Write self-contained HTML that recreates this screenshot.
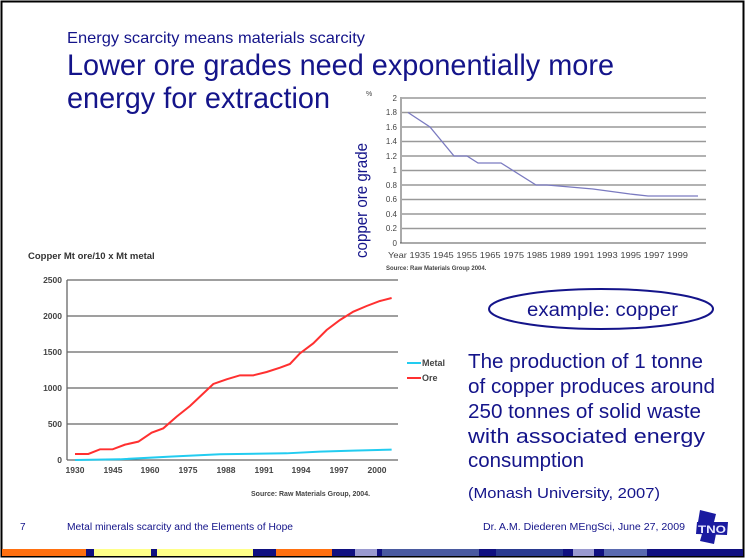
<!DOCTYPE html>
<html><head><meta charset="utf-8"><style>
html,body{margin:0;padding:0;background:#fff}
svg{display:block}
text{font-family:"Liberation Sans",sans-serif}
</style></head><body>
<svg width="746" height="558" viewBox="0 0 746 558" xmlns="http://www.w3.org/2000/svg">
<rect x="0" y="0" width="746" height="558" fill="#fff"/>
<rect x="1.5" y="1.5" width="742" height="555" fill="none" stroke="#000" stroke-width="2"/>
<g fill="#14148a">
<text x="67" y="43" font-size="16" textLength="298" lengthAdjust="spacingAndGlyphs">Energy scarcity means materials scarcity</text>
<text x="67" y="75" font-size="30" textLength="547" lengthAdjust="spacingAndGlyphs">Lower ore grades need exponentially more</text>
<text x="67" y="108" font-size="30" textLength="263" lengthAdjust="spacingAndGlyphs">energy for extraction</text>
</g>
<!-- top chart -->
<g stroke="#999" stroke-width="1.5">
<line x1="402" y1="98" x2="706" y2="98"/><line x1="402" y1="112.5" x2="706" y2="112.5"/>
<line x1="402" y1="127" x2="706" y2="127"/><line x1="402" y1="141.5" x2="706" y2="141.5"/>
<line x1="402" y1="156" x2="706" y2="156"/><line x1="402" y1="170.5" x2="706" y2="170.5"/>
<line x1="402" y1="185" x2="706" y2="185"/><line x1="402" y1="199.5" x2="706" y2="199.5"/>
<line x1="402" y1="214" x2="706" y2="214"/><line x1="402" y1="228.5" x2="706" y2="228.5"/>
</g>
<line x1="400" y1="243" x2="706" y2="243" stroke="#555"/>
<line x1="401" y1="97" x2="401" y2="243" stroke="#555"/>
<polyline fill="none" stroke="#7a7ac0" stroke-width="1.3" points="408,112.5 430,127 454,156 467,156 478,163 501,163 536,185 547,185 593,189 630,194 648,196 698,196"/>
<g font-size="8" fill="#444" text-anchor="end">
<text x="397" y="101">2</text><text x="397" y="115">1.8</text><text x="397" y="130">1.6</text><text x="397" y="144">1.4</text><text x="397" y="159">1.2</text><text x="397" y="173">1</text><text x="397" y="188">0.8</text><text x="397" y="202">0.6</text><text x="397" y="217">0.4</text><text x="397" y="231">0.2</text><text x="397" y="246">0</text>
</g>
<text x="366" y="96" font-size="7" fill="#444">%</text>
<text x="388" y="258" font-size="8.5" fill="#444" textLength="300" lengthAdjust="spacingAndGlyphs">Year 1935 1945 1955 1965 1975 1985 1989 1991 1993 1995 1997 1999</text>
<text x="386" y="270" font-size="6" font-weight="bold" fill="#444">Source: Raw Materials Group 2004.</text>
<text transform="translate(367,258) rotate(-90)" font-size="17" fill="#14148a" textLength="115" lengthAdjust="spacingAndGlyphs">copper ore grade</text>
<!-- bottom chart -->
<text x="28" y="259" font-size="9.5" font-weight="bold" fill="#333">Copper Mt ore/10 x Mt metal</text>
<g stroke="#666" stroke-width="1.3">
<line x1="67" y1="280" x2="398" y2="280"/><line x1="67" y1="316" x2="398" y2="316"/>
<line x1="67" y1="352" x2="398" y2="352"/><line x1="67" y1="388" x2="398" y2="388"/>
<line x1="67" y1="424" x2="398" y2="424"/><line x1="67" y1="460" x2="398" y2="460"/>
<line x1="67" y1="280" x2="67" y2="460"/>
</g>
<g font-size="8.5" font-weight="bold" fill="#444" text-anchor="end">
<text x="62" y="283">2500</text><text x="62" y="319">2000</text><text x="62" y="355">1500</text><text x="62" y="391">1000</text><text x="62" y="427">500</text><text x="62" y="463">0</text>
</g>
<g font-size="8.5" font-weight="bold" fill="#444" text-anchor="middle">
<text x="75" y="473">1930</text><text x="113" y="473">1945</text><text x="150" y="473">1960</text><text x="188" y="473">1975</text><text x="226" y="473">1988</text><text x="264" y="473">1991</text><text x="301" y="473">1994</text><text x="339" y="473">1997</text><text x="377" y="473">2000</text>
</g>
<g transform="translate(20,240) scale(0.3333)">
<polyline fill="none" stroke="#ff3030" stroke-width="6" points="165,642 205,642 240,628 278,628 315,614 355,605 395,578 430,565 470,530 510,498 545,465 580,432 620,418 660,406 700,406 740,396 780,383 810,372 840,340 880,310 920,270 960,240 1000,215 1040,198 1080,183 1115,174"/>
<polyline fill="none" stroke="#22ccf0" stroke-width="6" points="165,660 300,658 450,650 600,643 800,640 900,635 1000,632 1115,629"/>
</g>
<line x1="407" y1="363" x2="421" y2="363" stroke="#22ccf0" stroke-width="2"/>
<line x1="407" y1="378" x2="421" y2="378" stroke="#ff3030" stroke-width="2"/>
<text x="422" y="366" font-size="9" font-weight="bold" fill="#444">Metal</text>
<text x="422" y="381" font-size="9" font-weight="bold" fill="#444">Ore</text>
<text x="251" y="496" font-size="7" font-weight="bold" fill="#444">Source: Raw Materials Group, 2004.</text>
<!-- right text -->
<ellipse cx="601" cy="309" rx="112" ry="20" fill="none" stroke="#14148a" stroke-width="2"/>
<g fill="#14148a">
<text x="527" y="316" font-size="19" textLength="151" lengthAdjust="spacingAndGlyphs">example: copper</text>
<text x="468" y="368" font-size="20" textLength="235" lengthAdjust="spacingAndGlyphs">The production of 1 tonne</text>
<text x="468" y="393" font-size="20" textLength="247" lengthAdjust="spacingAndGlyphs">of copper produces around</text>
<text x="468" y="418" font-size="20" textLength="233" lengthAdjust="spacingAndGlyphs">250 tonnes of solid waste</text>
<text x="468" y="443" font-size="20" textLength="237" lengthAdjust="spacingAndGlyphs">with associated energy</text>
<text x="468" y="467" font-size="20" textLength="116" lengthAdjust="spacingAndGlyphs">consumption</text>
<text x="468" y="498" font-size="15" textLength="192" lengthAdjust="spacingAndGlyphs">(Monash University, 2007)</text>
<text x="20" y="530" font-size="10">7</text>
<text x="67" y="530" font-size="10" textLength="226" lengthAdjust="spacingAndGlyphs">Metal minerals scarcity and the Elements of Hope</text>
<text x="483" y="530" font-size="10" textLength="202" lengthAdjust="spacingAndGlyphs">Dr. A.M. Diederen MEngSci, June 27, 2009</text>
</g>
<g>
<path d="M700,510 L716,514 L713,526 L698,522 Z" fill="#1a1aa0"/>
<path d="M697,522 L728,522 L727,535 L696,534 Z" fill="#1a1aa0"/>
<path d="M702,534 L716,534 L714,544 L700,541 Z" fill="#1a1aa0"/>
<text x="698" y="533" font-size="11" font-weight="bold" fill="#e8e8ff" textLength="28" lengthAdjust="spacingAndGlyphs">TNO</text>
</g>
<!-- bottom bar -->
<g>
<rect x="2" y="549" width="84" height="7" fill="#ff7010"/>
<rect x="86" y="549" width="8" height="7" fill="#101080"/>
<rect x="94" y="549" width="57" height="7" fill="#ffff88"/>
<rect x="151" y="549" width="6" height="7" fill="#101080"/>
<rect x="157" y="549" width="96" height="7" fill="#ffff88"/>
<rect x="253" y="549" width="23" height="7" fill="#101080"/>
<rect x="276" y="549" width="56" height="7" fill="#ff7010"/>
<rect x="332" y="549" width="23" height="7" fill="#101080"/>
<rect x="355" y="549" width="22" height="7" fill="#9a9ad0"/>
<rect x="377" y="549" width="5" height="7" fill="#101080"/>
<rect x="382" y="549" width="97" height="7" fill="#4a5aa0"/>
<rect x="479" y="549" width="17" height="7" fill="#101080"/>
<rect x="496" y="549" width="67" height="7" fill="#2a3a90"/>
<rect x="563" y="549" width="10" height="7" fill="#101080"/>
<rect x="573" y="549" width="21" height="7" fill="#9a9ad0"/>
<rect x="594" y="549" width="10" height="7" fill="#101080"/>
<rect x="604" y="549" width="43" height="7" fill="#5a6ab0"/>
<rect x="647" y="549" width="96" height="7" fill="#101080"/>
</g>
</svg>
</body></html>
